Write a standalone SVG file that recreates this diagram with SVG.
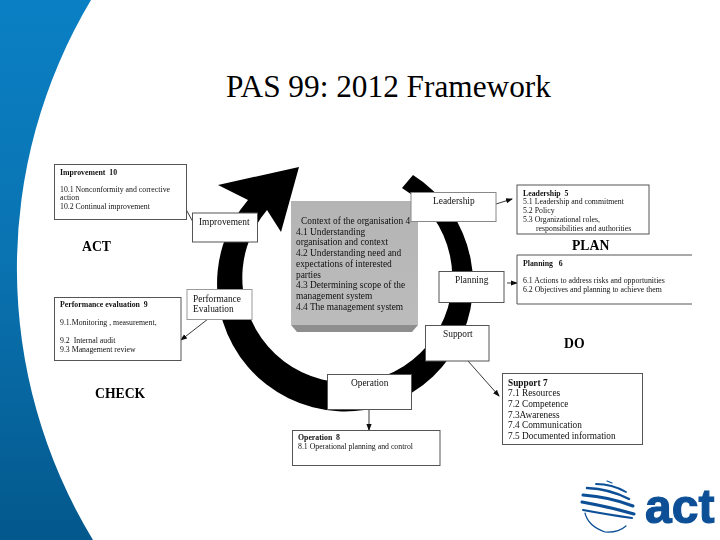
<svg xmlns="http://www.w3.org/2000/svg" width="720" height="540" viewBox="0 0 720 540">
<defs>
<linearGradient id="blue" x1="0" y1="0" x2="0" y2="1"><stop offset="0" stop-color="#0a80c4"/><stop offset="0.5" stop-color="#0a72b0"/><stop offset="1" stop-color="#03588c"/></linearGradient>
<linearGradient id="panel" x1="0" y1="0" x2="0" y2="1"><stop offset="0" stop-color="#b4b4b4"/><stop offset="1" stop-color="#bcbcbc"/></linearGradient>
<marker id="arr" markerWidth="7" markerHeight="6" refX="6" refY="3" orient="auto" markerUnits="userSpaceOnUse"><path d="M0,0.4 L7,3 L0,5.6 Z" fill="#111"/></marker>
<filter id="soft" x="0" y="0" width="100%" height="100%" filterUnits="userSpaceOnUse" primitiveUnits="userSpaceOnUse"><feGaussianBlur stdDeviation="0.35"/></filter>
</defs>
<style>
text{font-family:"Liberation Serif","Times New Roman",serif;fill:#111;white-space:pre}
.box{fill:#fff;stroke:#555;stroke-width:1}
.s{font-size:7.8px}
.b{font-weight:bold}
.n{font-size:9.4px}
.c{font-size:9.4px;fill:#111}
.h{font-size:13.7px;font-weight:bold;fill:#000}
.d{font-size:9.3px}
.con{fill:none;stroke:#222;stroke-width:0.9;marker-end:url(#arr)}
</style>
<rect width="720" height="540" fill="#fff"/>
<path id="sidebar" d="M0,0 H91 A523,523 0 0 0 93,540 H0 Z" fill="url(#blue)"/>
<text x="226" y="97" style="font-size:31.300px;fill:#000">PAS 99: 2012 Framework</text>
<g filter="url(#soft)">
<path id="cycle" d="M413,175 A128,128 0 1 1 248,200 L218,185 L299,167 L281,232 L267,210 A105,105 0 1 0 402,188 Z" fill="#000"/>

<g id="central"><path d="M291,325 H418 L412,332 H297 Z" fill="#8e8e8e"/><rect x="291" y="201" width="127" height="124" fill="url(#panel)"/>
<text class="c" x="301" y="224">Context of the organisation 4</text>
<text class="c" x="296" y="235">4.1 Understanding</text>
<text class="c" x="296" y="245">organisation and context</text>
<text class="c" x="296" y="256">4.2 Understanding need and</text>
<text class="c" x="296" y="267">expectations of interested</text>
<text class="c" x="296" y="278">parties</text>
<text class="c" x="296" y="288">4.3 Determining scope of the</text>
<text class="c" x="296" y="299">management system</text>
<text class="c" x="296" y="310">4.4 The management system</text></g>

<g id="connectors">
<path class="con" d="M193,222 L182,202"/>
<path class="con" d="M208,319 L181,340"/>
<path class="con" d="M496,204 L512,199"/>
<path class="con" d="M507,283 L517,283"/>
<path class="con" d="M468,361 L499,396"/>
<path class="con" d="M369,409 L369,430"/>
</g>

<g id="improvement-detail"><rect class="box" x="54.500" y="164.500" width="132" height="55"/>
<text class="s b" x="60" y="175">Improvement  10</text>
<text class="s" x="60" y="192">10.1 Nonconformity and corrective</text>
<text class="s" x="60" y="200">action</text>
<text class="s" x="60" y="209">10.2 Continual improvement</text></g>
<g id="improvement"><rect class="box" x="192.500" y="213" width="65" height="29"/><text class="n" x="199" y="225">Improvement</text></g>
<text class="h" x="82" y="251">ACT</text>

<g id="performance-detail"><rect class="box" x="54.500" y="297.500" width="126.500" height="63"/>
<text class="s b" x="60" y="307">Performance evaluation  9</text>
<text class="s" x="60" y="325">9.1.Monitoring , measurement,</text>
<text class="s" x="60" y="343">9.2  Internal audit</text>
<text class="s" x="60" y="352">9.3 Management review</text></g>
<g id="performance"><rect x="187" y="289.500" width="65" height="30" fill="#fff" stroke="#999"/>
<text class="n" x="193" y="302">Performance</text><text class="n" x="193" y="312">Evaluation</text></g>
<text class="h" x="95" y="398">CHECK</text>

<g id="leadership"><rect x="411" y="192.500" width="85" height="29" fill="#fff" stroke="#888"/><text class="n" x="433" y="204">Leadership</text></g>
<g id="leadership-detail"><rect class="box" x="517" y="185" width="132" height="49"/>
<text class="s b" x="523" y="196">Leadership  5</text>
<text class="s" x="523" y="204">5.1 Leadership and commitment</text>
<text class="s" x="523" y="213">5.2 Policy</text>
<text class="s" x="523" y="222">5.3 Organizational roles,</text>
<text class="s" x="536" y="231">responsibilities and authorities</text></g>
<text class="h" x="572" y="250">PLAN</text>

<g id="planning"><rect class="box" x="439" y="271.500" width="65" height="31"/><text class="n" x="455" y="283">Planning</text></g>
<g id="planning-detail"><path d="M692,255 H517 V304 H692" fill="#fff" stroke="#555"/>
<text class="s b" x="523" y="266">Planning   6</text>
<text class="s" x="523" y="283">6.1 Actions to address risks and opportunities</text>
<text class="s" x="523" y="292">6.2 Objectives and planning to achieve them</text></g>

<g id="support"><rect class="box" x="425.500" y="325.500" width="63.500" height="35.500"/><text class="n" x="443" y="337">Support</text></g>
<text class="h" x="564" y="348">DO</text>
<g id="support-detail"><rect class="box" x="502.500" y="373.500" width="140" height="71"/>
<text class="d b" x="508" y="386">Support 7</text>
<text class="d" x="508" y="396">7.1 Resources</text>
<text class="d" x="508" y="407">7.2 Competence</text>
<text class="d" x="508" y="418">7.3Awareness</text>
<text class="d" x="508" y="428">7.4 Communication</text>
<text class="d" x="508" y="439">7.5 Documented information</text></g>

<g id="operation"><rect class="box" x="327.500" y="374.500" width="84" height="35"/><text class="n" x="351" y="386">Operation</text></g>
<g id="operation-detail"><rect class="box" x="292.500" y="430.500" width="147.500" height="35"/>
<text class="s b" x="298" y="440">Operation  8</text>
<text class="s" x="298" y="449">8.1 Operational planning and control</text></g>

<g id="logo" fill="none" stroke="#0a4f96" stroke-linecap="round">
<path d="M596,484 Q612,484 626,492" stroke-width="1.800"/>
<path d="M587,488 Q610,489 629,499" stroke-width="2.500"/>
<path d="M583,495 Q610,497 633,506" stroke-width="3"/>
<path d="M582,502 Q610,507 634,514" stroke-width="3"/>
<path d="M583,510 Q610,515 632,518" stroke-width="2"/>
<path d="M585,513 Q588,526 605,532 Q618,533 626,526" stroke-width="1.200"/>
<path d="M607,481 L612,483" stroke-width="1.200"/>
</g>
<text x="645" y="523" style="font-family:'Liberation Sans',Arial,sans-serif;font-size:48px;font-weight:bold;fill:#0a4f96;stroke:#0a4f96;stroke-width:1.200px">act</text>
</g>
</svg>
